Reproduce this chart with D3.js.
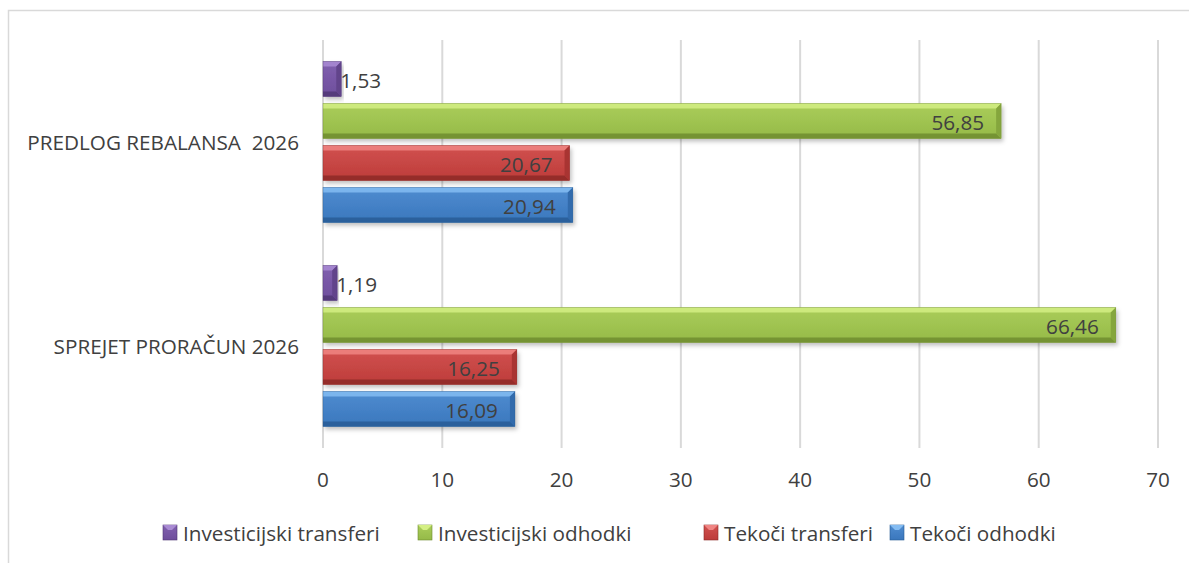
<!DOCTYPE html>
<html>
<head>
<meta charset="utf-8">
<script src="https://cdn.jsdelivr.net/npm/d3@7"></script>
<style>
body{margin:0;background:#fff;}
text{font-family:"Open Sans",Lato,sans-serif;fill:#404040;}
</style>
</head>
<body>
<div id="chart"></div>
<script>
let categories = ['PREDLOG REBALANSA  2026', 'SPREJET PRORAČUN 2026'],
series = ['Investicijski transferi', 'Investicijski odhodki', 'Tekoči transferi', 'Tekoči odhodki'],
inv_transferi = [1.53, 1.19],
inv_odhodki = [56.85, 66.46],
tek_transferi = [20.67, 16.25],
tek_odhodki = [20.94, 16.09],
ticks = [0, 10, 20, 30, 40, 50, 60, 70];

let values = [inv_transferi, inv_odhodki, tek_transferi, tek_odhodki];

//body, light edge, dark edge
let colors = [
	['#7452a3', '#a98bd3', '#4f3673'],
	['#9cc24c', '#d4ef84', '#6d8a2e'],
	['#c63f3d', '#f08583', '#8b2826'],
	['#3d7cc4', '#84bcf2', '#275a93']
];

let W = 1189, H = 563, fs = '20.7px';
let svg = d3.select('#chart').append('svg').attr('width', W).attr('height', H);

//outer border
svg.append('rect')
.attr('x', 8.5).attr('y', 10.5)
.attr('width', W + 10).attr('height', H)
.style('fill', 'none').style('stroke', '#d9d9d9').style('stroke-width', 1.5);

let defs = svg.append('defs');
let shadow = defs.append('filter').attr('id', 'shadow')
.attr('x', '-5%').attr('y', '-20%').attr('width', '115%').attr('height', '160%');
shadow.append('feDropShadow').attr('dx', 2).attr('dy', 3).attr('stdDeviation', 2)
.attr('flood-color', '#000').attr('flood-opacity', 0.25);

colors.forEach((c, i)=>{
	let g = defs.append('linearGradient').attr('id', 'grad' + i)
	.attr('x1', '0%').attr('y1', '0%').attr('x2', '0%').attr('y2', '100%');
	g.append('stop').attr('offset', '0%').attr('stop-color', d3.interpolateRgb(c[0], c[1])(0.25));
	g.append('stop').attr('offset', '100%').attr('stop-color', d3.interpolateRgb(c[0], c[2])(0.15));
});

let x = d3.scaleLinear().domain([0, 70]).range([323, 1158]);
let y = d3.scaleBand().domain(categories).range([40, 448]);
let groupH = 161;
let yIn = d3.scaleBand().domain(series).range([0, groupH]).paddingInner(7 / 42);

//gridlines
svg.append('g').selectAll('line').data(ticks).enter().append('line')
.attr('x1', d=>x(d)).attr('x2', d=>x(d))
.attr('y1', 40).attr('y2', 448)
.style('stroke', '#d9d9d9').style('stroke-width', 2);

//tick labels
svg.append('g').selectAll('text').data(ticks).enter().append('text')
.attr('x', d=>x(d)).attr('y', 479)
.attr('text-anchor', 'middle').attr('dominant-baseline', 'central')
.style('font-size', fs)
.text(d=>d);

//category labels
svg.append('g').selectAll('text').data(categories).enter().append('text')
.attr('x', 299).attr('y', d=>y(d) + y.bandwidth() / 2)
.attr('text-anchor', 'end').attr('dominant-baseline', 'central')
.style('font-size', fs)
.style('white-space', 'pre')
.text(d=>d);

function bevelBar(g, x0, y0, w, h, c, i){
	let b = Math.min(5, w / 2), x1 = x0 + w, y1 = y0 + h;
	g.append('rect').attr('x', x0).attr('y', y0).attr('width', w).attr('height', h)
	.style('fill', 'url(#grad' + i + ')').attr('filter', 'url(#shadow)');
	g.append('polygon')
	.attr('points', [[x0, y0], [x1, y0], [x1 - b, y0 + b], [x0, y0 + b]].join(' '))
	.style('fill', c[1]).style('opacity', 0.85);
	g.append('polygon')
	.attr('points', [[x0, y1 - b], [x1 - b, y1 - b], [x1, y1], [x0, y1]].join(' '))
	.style('fill', c[2]).style('opacity', 0.8);
	g.append('polygon')
	.attr('points', [[x1, y0], [x1, y1], [x1 - b, y1 - b], [x1 - b, y0 + b]].join(' '))
	.style('fill', d3.interpolateRgb(c[0], c[2])(0.5));
	g.append('rect').attr('x', x0).attr('y', y0).attr('width', w).attr('height', h)
	.style('fill', 'none').style('stroke', c[2]).style('stroke-width', 0.6).style('opacity', 0.6);
}

//bars
let bars = svg.append('g');
categories.forEach((cat, ci)=>{
	let off = y(cat) + (y.bandwidth() - groupH) / 2;
	series.forEach((s, si)=>{
		let v = values[si][ci],
		by = off + yIn(s),
		w = x(v) - x(0);
		bevelBar(bars, x(0), by, w, yIn.bandwidth(), colors[si], si);
		let outside = si == 0;
		bars.append('text')
		.attr('x', outside ? x(v) - 1 : x(v) - 17)
		.attr('y', by + yIn.bandwidth() / 2 + 1)
		.attr('text-anchor', outside ? 'start' : 'end')
		.attr('dominant-baseline', 'central')
		.style('font-size', fs)
		.text(d3.format('.2f')(v).replace('.', ','));
	});
});

//legend
let legendX = [163, 418, 704, 890];
let legend = svg.append('g');
series.forEach((s, i)=>{
	let lx = legendX[i], ly = 525;
	legend.append('rect').attr('x', lx).attr('y', ly).attr('width', 14).attr('height', 15)
	.style('fill', 'url(#grad' + i + ')').style('stroke', colors[i][2]).style('stroke-width', 0.6);
	legend.append('polygon')
	.attr('points', [[lx, ly], [lx + 14, ly], [lx + 9, ly + 5], [lx + 5, ly + 5]].join(' '))
	.style('fill', colors[i][1]);
	legend.append('text').attr('x', lx + 20).attr('y', ly + 7.5)
	.attr('dominant-baseline', 'central')
	.style('font-size', fs)
	.text(s);
});
</script>
</body>
</html>
